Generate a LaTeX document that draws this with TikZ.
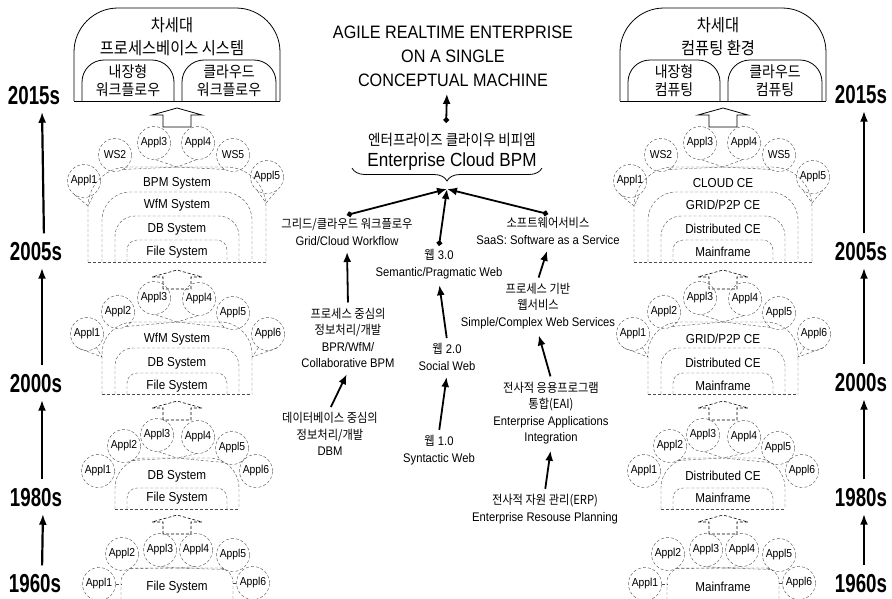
\documentclass[tikz,border=0pt]{standalone}
\usepackage{fontspec}
\setmainfont{Liberation Sans}[FakeStretch=0.9]
\newfontfamily\kr{Noto Sans CJK KR}[FakeStretch=0.9]
\newfontfamily\yr{Liberation Sans}[FakeStretch=0.72]
\usetikzlibrary{arrows.meta,positioning,calc,decorations.pathreplacing}

\tikzset{
  appl/.style={circle,draw=black!70,densely dashed,minimum size=33pt,inner sep=0pt,font=\fontsize{11.5}{12}\selectfont},
  lvl/.style={font=\fontsize{13}{14}\selectfont},
  arch/.style={draw=black!70,densely dashed},
  tether/.style={draw=black!70,densely dashed},
  dome/.style={draw,thick},
  domehead/.style={font=\kr\fontsize{17}{18}\selectfont},
  domesub/.style={align=center,font=\kr\fontsize{15.5}{18}\selectfont},
  yearlab/.style={font=\yr\bfseries\fontsize{26}{27}\selectfont},
  yeararrow/.style={line width=2.2pt,-{Latex[length=11pt,width=8pt]},shorten <=6pt,shorten >=3pt},
  evo/.style={line width=1.8pt,-{Latex[length=10pt,width=8pt]},shorten <=2pt,shorten >=3pt},
  dotevo/.style={line width=1.8pt,{Circle[length=5.5pt]}-{Latex[length=10pt,width=8pt]}},
  note/.style={align=center,font=\fontsize{12.5}{16.5}\selectfont},
  upblock/.pic={\draw (-14,19) -- (-14,7) -- (-25,7) -- (0,0) -- (25,7) -- (14,7) -- (14,19) -- cycle;}
}

% one column: #1 prefix, #2-#5 layers (top to bottom), #6 dome title, #7 small dome line
\newcommand{\evostack}[7]{%
  % next generation dome
  \draw[dome,rounded corners=44pt] (-103,101) -- (-103,8) -- (103,8) -- (103,101);
  \draw[dome,rounded corners=22pt] (-95,101) -- (-95,60) -- (-3,60) -- (-3,101);
  \draw[dome,rounded corners=22pt] (5,101) -- (5,60) -- (99,60) -- (99,101);
  \draw[dome] (-103,101) -- (103,101);
  \node[domehead] (#1ngA) at (-5,25) {차세대};
  \node[domehead] (#1ngB) at (-5,48) {#6};
  \node[domesub] (#1emb) at (-49,81) {내장형\\#7};
  \node[domesub] (#1cld) at (52,81) {클라우드\\#7};
  \pic[thick] at (0,108) {upblock};
  % 2015s stage
  \foreach \n/\x/\y/\t in {1/-93/181/Appl1,2/-62/155/WS2,3/-23/143/Appl3,4/21/143/Appl4,5/56/155/WS5,6/90/177/Appl5}
    \node[appl] (#1a\n) at (\x,\y) {\t};
  \coordinate (#1atop) at (0,167);
  \foreach \n/\a in {2/300,3/275,4/265,5/240}
    \draw[tether] (#1a\n.\a) -- (#1atop);
  \coordinate (#1awl) at (-89,206);
  \coordinate (#1awr) at (89,203);
  \draw[tether] (#1a1.235) -- (#1awl) -- (#1a1.305);
  \draw[tether] (#1a6.235) -- (#1awr) -- (#1a6.305);
  \draw[arch,rounded corners=40pt] (-89,262) -- (-89,167) -- (89,167) -- (89,262);
  \draw[arch,rounded corners=28pt] (-75,262) -- (-75,192) -- (75,192) -- (75,262);
  \draw[arch,rounded corners=20pt] (-62,262) -- (-62,216) -- (62,216) -- (62,262);
  \draw[arch,rounded corners=10pt] (-50,262) -- (-50,240) -- (50,240) -- (50,262);
  \draw[arch] (-89,262) -- (89,262);
  \node[lvl] (#1al1) at (0,183) {#2};
  \node[lvl] (#1al2) at (0,205) {#3};
  \node[lvl] (#1al3) at (0,229) {#4};
  \node[lvl] (#1al4) at (0,252) {#5};
  % 2005s stage
  \pic[semithick,densely dashed] at (0,270) {upblock};
  \foreach \n/\x/\y/\t in {1/-90/334/Appl1,2/-59/312/Appl2,3/-23/298/Appl3,4/22/299/Appl4,5/56/313/Appl5,6/91/334/Appl6}
    \node[appl] (#1b\n) at (\x,\y) {\t};
  \coordinate (#1btop) at (0,322);
  \foreach \n/\a in {2/300,3/275,4/265,5/240}
    \draw[tether] (#1b\n.\a) -- (#1btop);
  \coordinate (#1bwl) at (-75,357);
  \coordinate (#1bwr) at (75,357);
  \draw[tether] (#1b1.235) -- (#1bwl) -- (#1b1.305);
  \draw[tether] (#1b6.235) -- (#1bwr) -- (#1b6.305);
  \draw[arch,rounded corners=32pt] (-75,394) -- (-75,322) -- (75,322) -- (75,394);
  \draw[arch,rounded corners=18pt] (-62,394) -- (-62,348) -- (62,348) -- (62,394);
  \draw[arch,rounded corners=10pt] (-50,394) -- (-50,373) -- (50,373) -- (50,394);
  \draw[arch] (-75,394) -- (75,394);
  \node[lvl] (#1bl2) at (0,339) {#3};
  \node[lvl] (#1bl3) at (0,363) {#4};
  \node[lvl] (#1bl4) at (0,386) {#5};
  % 1980s stage
  \pic[semithick,densely dashed] at (0,401) {upblock};
  \foreach \n/\x/\y/\t in {1/-79/471/Appl1,2/-53/446/Appl2,3/-20/435/Appl3,4/21/437/Appl4,5/55/448/Appl5,6/79/471/Appl6}
    \node[appl] (#1c\n) at (\x,\y) {\t};
  \coordinate (#1ctop) at (0,458);
  \foreach \n/\a in {2/300,3/275,4/265,5/240}
    \draw[tether] (#1c\n.\a) -- (#1ctop);
  \draw[arch,rounded corners=30pt] (-62,509) -- (-62,458) -- (62,458) -- (62,509);
  \draw[arch,rounded corners=10pt] (-50,509) -- (-50,488) -- (50,488) -- (50,509);
  \draw[arch] (-62,509) -- (62,509);
  \node[lvl] (#1cl3) at (0,476) {#4};
  \node[lvl] (#1cl4) at (0,498) {#5};
  % 1960s stage
  \pic[semithick,densely dashed] at (0,515) {upblock};
  \foreach \n/\x/\y/\t in {1/-78/584/Appl1,2/-55/554/Appl2,3/-17/550/Appl3,4/19/550/Appl4,5/56/555/Appl5,6/76/583/Appl6}
    \node[appl] (#1d\n) at (\x,\y) {\t};
  \coordinate (#1dtop) at (0,568);
  \coordinate (#1dwl) at (-56,584);
  \coordinate (#1dwr) at (56,583);
  \foreach \n/\a in {2/300,3/275,4/265,5/240}
    \draw[tether] (#1d\n.\a) -- (#1dtop);
  \draw[tether] (#1d1.east) -- (#1dwl);
  \draw[tether] (#1d6.west) -- (#1dwr);
  \draw[arch,rounded corners=14pt] (-56,610) -- (-56,568) -- (56,568) -- (56,610);
  \node[lvl] (#1dl4) at (0,587) {#5};
}

\begin{document}
\begin{tikzpicture}[x=1pt,y=-1pt]
  \useasboundingbox (0,0) rectangle (892,598);
  \clip (0,0) rectangle (892,598);

  % Left: process based systems
  \begin{scope}[xshift=177pt]
    \evostack{L}{BPM System}{WfM System}{DB System}{File System}{프로세스베이스 시스템}{워크플로우}
  \end{scope}

  % Right: computing environments
  \begin{scope}[xshift=723pt]
    \evostack{R}{CLOUD CE}{GRID/P2P CE}{Distributed CE}{Mainframe}{컴퓨팅 환경}{컴퓨팅}
  \end{scope}

  % Years
  \node[yearlab] (l2015) at (34,96) {2015s};
  \node[yearlab] (l2005) at (36,252) {2005s};
  \node[yearlab] (l2000) at (36,384) {2000s};
  \node[yearlab] (l1980) at (36,498) {1980s};
  \node[yearlab] (l1960) at (35,584) {1960s};
  \node[yearlab] (r2015) at (861,95) {2015s};
  \node[yearlab] (r2005) at (861,252) {2005s};
  \node[yearlab] (r2000) at (861,383) {2000s};
  \node[yearlab] (r1980) at (861,498) {1980s};
  \node[yearlab] (r1960) at (861,584) {1960s};
  \draw[yeararrow] ([xshift=8pt]l2005.north) -- ([xshift=8pt]l2015.south);
  \draw[yeararrow] ([xshift=6pt]l2000.north) -- ([xshift=6pt]l2005.south);
  \draw[yeararrow] ([xshift=6pt]l1980.north) -- ([xshift=6pt]l2000.south);
  \draw[yeararrow] ([xshift=7pt]l1960.north) -- ([xshift=7pt]l1980.south);
  \draw[yeararrow] ([xshift=3pt]r2005.north) -- ([xshift=3pt]r2015.south);
  \draw[yeararrow] ([xshift=3pt]r2000.north) -- ([xshift=3pt]r2005.south);
  \draw[yeararrow] ([xshift=3pt]r1980.north) -- ([xshift=3pt]r2000.south);
  \draw[yeararrow] ([xshift=3pt]r1960.north) -- ([xshift=3pt]r1980.south);

  % Centre: goal
  \node[align=center,font=\fontsize{18}{24}\selectfont] (title) at (453,56)
    {AGILE REALTIME ENTERPRISE\\ON A SINGLE\\CONCEPTUAL MACHINE};
  \node[font=\kr\fontsize{15}{16}\selectfont] (ecbpmkr) at (452,140) {엔터프라이즈 클라이우 비피엠};
  \node[font=\fontsize{19}{20}\selectfont] (ecbpm) at (452,162) {Enterprise Cloud BPM};
  \draw[dotevo,shorten <=7pt,shorten >=4pt] ([xshift=-6pt]ecbpmkr.north) -- ([xshift=-6pt]title.south);
  \draw[thick,decorate,decoration={brace,mirror,amplitude=13pt}] (352,168) -- (542,168);
  \coordinate (hub) at (447,189);

  % Centre: three streams
  \node[note] (gridwf) at (347,232) {{\kr 그리드/클라우드 워크플로우}\\Grid/Cloud Workflow};
  \node[note] (saas) at (548,231) {{\kr 소프트웨어서비스}\\SaaS: Software as a Service};
  \node[note] (web3) at (439,264) {{\kr 웹} 3.0\\Semantic/Pragmatic Web};
  \node[note] (bpr) at (348,338) {{\kr 프로세스 중심의}\\{\kr 정보처리/개발}\\BPR/WfM/\\Collaborative BPM};
  \node[note] (web2) at (447,357) {{\kr 웹} 2.0\\Social Web};
  \node[note] (dbm) at (330,434) {{\kr 데이터베이스 중심의}\\{\kr 정보처리/개발}\\DBM};
  \node[note] (web1) at (439,450) {{\kr 웹} 1.0\\Syntactic Web};
  \node[note] (websvc) at (538,306) {{\kr 프로세스 기반}\\{\kr 웹서비스}\\Simple/Complex Web Services};
  \node[note] (eai) at (551,413) {{\kr 전사적 응용프로그램}\\{\kr 통합(EAI)}\\Enterprise Applications\\Integration};
  \node[note] (erp) at (545,509) {{\kr 전사적 자원 관리(ERP)}\\Enterprise Resouse Planning};

  % Arrows
  \draw[dotevo] (gridwf.north) -- (hub);
  \draw[dotevo] (saas.north) -- (hub);
  \draw[dotevo] (web3.north) -- (hub);
  \draw[evo] (bpr.north) -- (gridwf.south);
  \draw[evo] (dbm.north) -- (bpr.south);
  \draw[evo] (web2.north) -- (web3.south);
  \draw[evo] (web1.north) -- (web2.south);
  \draw[evo] (websvc.north) -- (saas.south);
  \draw[evo] (eai.north) -- (websvc.south);
  \draw[evo] (erp.north) -- (eai.south);
\end{tikzpicture}
\end{document}
